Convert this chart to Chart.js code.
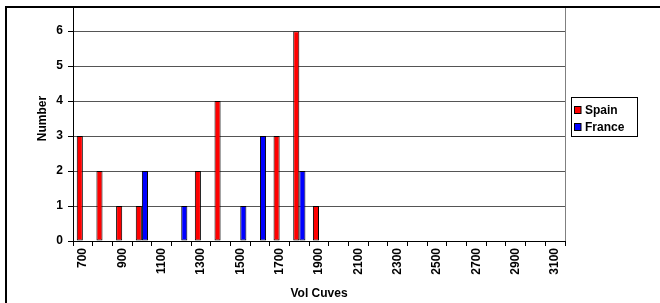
<!DOCTYPE html>
<html>
<head>
<meta charset="utf-8">
<script src="https://cdn.jsdelivr.net/npm/chart.js@4.4.1/dist/chart.umd.min.js"></script>
<style>
html,body{margin:0;padding:0;background:#fff;overflow:hidden;}
#wrap{position:absolute;left:0;top:-16px;width:660px;height:319px;}
</style>
</head>
<body>
<div id="wrap"><canvas id="c" width="660" height="319"></canvas></div>
<script>
const categories = ['700','800','900','1000','1100','1200','1300','1400','1500','1600','1700','1800','1900','2000','2100','2200','2300','2400','2500','2600','2700','2800','2900','3000','3100'];
const spain  = [3,2,1,1,null,null,2,4,null,null,3,6,1,null,null,null,null,null,null,null,null,null,null,null,null];
const france = [null,null,null,2,null,1,null,null,1,3,null,2,null,null,null,null,null,null,null,null,null,null,null,null,null];
const seriesNames = ['Spain','France'];
const seriesColors = ['#FF0000','#0000FF'];
const yTicks = [0,1,2,3,4,5,6];

const FONT = "'Liberation Sans', Arial, sans-serif";
const OFF = 16;

const decor = {
  id:'decor',
  beforeDatasetsDraw(chart){
    const a = chart.chartArea, ctx = chart.ctx;
    ctx.save();
    ctx.strokeStyle = '#808080'; ctx.lineWidth = 1;
    ctx.beginPath(); ctx.moveTo(Math.round(a.right)+0.5, a.top); ctx.lineTo(Math.round(a.right)+0.5, a.bottom); ctx.stroke();
    ctx.restore();
  },
  afterDraw(chart){
    const ctx = chart.ctx;
    ctx.save();
    ctx.fillStyle = '#fff';
    ctx.fillRect(0, 0, 660, OFF + 6);
    ctx.fillRect(0, 0, 5, 319);
    ctx.strokeStyle = '#000'; ctx.lineWidth = 2;
    ctx.beginPath();
    ctx.moveTo(6, 400); ctx.lineTo(6, OFF + 7); ctx.lineTo(700, OFF + 7);
    ctx.stroke();
    // legend
    const lx = 571, ly = OFF + 97, lw = 66, lh = 39;
    ctx.lineWidth = 1; ctx.strokeStyle = '#000'; ctx.fillStyle = '#fff';
    ctx.fillRect(lx, ly, lw, lh);
    ctx.strokeRect(lx + 0.5, ly + 0.5, lw, lh);
    ctx.font = "bold 12px " + FONT;
    ctx.textBaseline = 'middle';
    for (let i = 0; i < seriesNames.length; i++) {
      const cy = OFF + 110 + i * 17;
      ctx.fillStyle = seriesColors[i];
      ctx.fillRect(574, cy - 3.5, 7, 7);
      ctx.strokeStyle = '#000';
      ctx.strokeRect(574.5, cy - 3.5, 6.5, 7);
      ctx.fillStyle = '#000';
      ctx.fillText(seriesNames[i], 585, cy + 0.5);
    }
    ctx.restore();
  }
};

new Chart(document.getElementById('c'), {
  type:'bar',
  data:{
    labels: categories,
    datasets:[
      {label:seriesNames[0], data:spain, backgroundColor:seriesColors[0], borderColor:'#000', borderWidth:1, borderSkipped:false},
      {label:seriesNames[1], data:france, backgroundColor:seriesColors[1], borderColor:'#000', borderWidth:1, borderSkipped:false}
    ]
  },
  options:{
    responsive:false, animation:false,
    layout:{padding:{left:35, right:95, top:10, bottom:0}},
    categoryPercentage:0.62, barPercentage:1.0,
    plugins:{legend:{display:false}, tooltip:{enabled:false}},
    scales:{
      x:{
        grid:{offset:true, drawOnChartArea:false, tickLength:5, color:'#000'},
        border:{color:'#000'},
        ticks:{autoSkip:false, maxRotation:90, minRotation:90, padding:2, color:'#000',
          font:{family:FONT, size:12, weight:'bold'},
          callback:function(v,i){return i%2===0 ? categories[i] : '';}},
        title:{display:true, text:'Vol Cuves', color:'#000', font:{family:FONT, size:12, weight:'bold'}, padding:{top:0,bottom:2}},
        afterFit(s){ s.height = 62; }
      },
      y:{
        min:0, max:7,
        afterBuildTicks(s){ s.ticks = yTicks.map(v=>({value:v})); },
        grid:{color:'#555', tickColor:'#000', tickLength:5},
        border:{color:'#000'},
        ticks:{padding:5, color:'#000', font:{family:FONT, size:12, weight:'bold'}},
        title:{display:true, text:'Number', color:'#000', font:{family:FONT, size:12, weight:'bold'}, padding:{top:0,bottom:0}},
        afterFit(s){ s.width = 38; }
      }
    }
  },
  plugins:[decor]
});
</script>
</body>
</html>
